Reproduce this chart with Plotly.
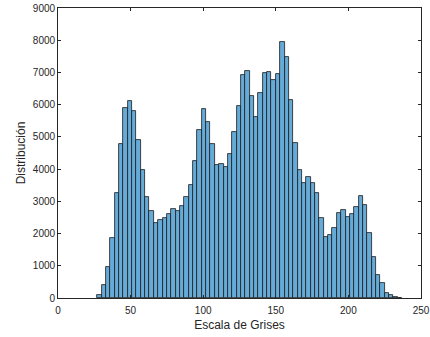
import plotly.graph_objects as go

# Histogram data (bin counts), bins of width 3 starting at 27
bin_start = 27
bin_width = 3
counts = [90, 400, 970, 1870, 3250, 4780, 5890, 6100, 5790, 4900,
          3970, 3140, 2710, 2340, 2420, 2470, 2610, 2750, 2700, 2855,
          3140, 3500, 4260, 5210, 5870, 5470, 4770, 4130, 4160, 4070,
          4470, 5140, 5960, 6910, 7060, 6270, 5630, 6350, 6970, 7020,
          6760, 6950, 7930, 7470, 6140, 4800, 3970, 3560, 3740, 3560,
          3270, 2480, 1880, 1950, 2180, 2630, 2730, 2520, 2600, 2810,
          3170, 2890, 2010, 1260, 710, 475, 165, 90, 40, 10]
x_ticks = [0, 50, 100, 150, 200, 250]
y_ticks = [0, 1000, 2000, 3000, 4000, 5000, 6000, 7000, 8000, 9000]

centers = [bin_start + bin_width * (i + 0.5) for i in range(len(counts))]

axis_color = "#262626"
font = dict(family="Liberation Sans, Arial, sans-serif", size=10, color=axis_color)

fig = go.Figure(go.Bar(
    x=centers, y=counts, width=bin_width,
    marker=dict(color="#66AAD7", line=dict(color="#1a1a1a", width=0.8)),
))

axis_common = dict(
    showline=True, linecolor=axis_color, linewidth=0.8, mirror="ticks",
    ticks="inside", ticklen=3, tickcolor=axis_color, tickwidth=0.8,
    showgrid=False, zeroline=False, tickfont=font, automargin=False,
)

fig.update_layout(
    width=430, height=337,
    margin=dict(l=58, r=9, t=8, b=39),
    paper_bgcolor="white", plot_bgcolor="white",
    bargap=0, showlegend=False, font=font,
    xaxis=dict(range=[0, 250], tickvals=x_ticks, ticktext=[str(v) for v in x_ticks],
               ticklabelstandoff=3,
               title=dict(text="Escala de Grises", font=dict(size=12, color=axis_color), standoff=5),
               **axis_common),
    yaxis=dict(range=[0, 9000], tickvals=y_ticks, ticktext=[str(v) for v in y_ticks],
               title=dict(text="Distribución", font=dict(size=12, color=axis_color), standoff=4),
               **axis_common),
)

fig.write_html("out.html", config={"displayModeBar": False},
               post_script="document.body.style.margin='0';document.body.style.overflow='hidden';")
